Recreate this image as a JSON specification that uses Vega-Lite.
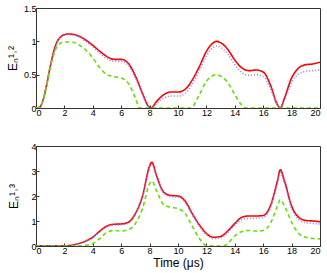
{
  "$schema": "https://vega.github.io/schema/vega-lite/v6.json",
  "padding": {"left": 5, "top": 3, "right": 5, "bottom": 2},
  "background": "white",
  "config": {
    "font": "Liberation Sans",
    "view": {"stroke": "#333", "strokeWidth": 1},
    "axis": {"grid": false, "domainColor": "#333", "tickColor": "#333", "labelColor": "#000", "titleColor": "#000", "labelFontSize": 9, "titleFontSize": 12, "titleFontWeight": "normal", "tickSize": -3, "labelPadding": 3, "domain": true, "format": "~g"}
  },
  "spacing": 38,
  "bounds": "flush",
  "datasets": {
    "top": [
      {"t":0,"s":"red","v":0},{"t":0.25,"s":"red","v":0.01},{"t":0.5,"s":"red","v":0.12},{"t":0.75,"s":"red","v":0.35},{"t":1,"s":"red","v":0.62},{"t":1.25,"s":"red","v":0.85},{"t":1.5,"s":"red","v":1.0},{"t":1.75,"s":"red","v":1.07},{"t":2,"s":"red","v":1.1},{"t":2.3,"s":"red","v":1.11},{"t":3,"s":"red","v":1.08},{"t":3.5,"s":"red","v":1.02},{"t":4,"s":"red","v":0.94},{"t":4.5,"s":"red","v":0.85},{"t":5,"s":"red","v":0.77},{"t":5.5,"s":"red","v":0.73},{"t":6,"s":"red","v":0.73},{"t":6.5,"s":"red","v":0.67},{"t":7,"s":"red","v":0.48},{"t":7.5,"s":"red","v":0.22},{"t":7.9,"s":"red","v":0.03},{"t":8.1,"s":"red","v":0},{"t":8.5,"s":"red","v":0.1},{"t":9,"s":"red","v":0.2},{"t":9.5,"s":"red","v":0.24},{"t":10,"s":"red","v":0.24},{"t":10.5,"s":"red","v":0.28},{"t":11,"s":"red","v":0.42},{"t":11.5,"s":"red","v":0.62},{"t":12,"s":"red","v":0.85},{"t":12.5,"s":"red","v":0.98},{"t":12.7,"s":"red","v":1.0},{"t":13,"s":"red","v":0.98},{"t":13.5,"s":"red","v":0.88},{"t":14,"s":"red","v":0.72},{"t":14.5,"s":"red","v":0.6},{"t":15,"s":"red","v":0.56},{"t":15.5,"s":"red","v":0.57},{"t":16,"s":"red","v":0.54},{"t":16.5,"s":"red","v":0.35},{"t":17,"s":"red","v":0.05},{"t":17.2,"s":"red","v":0},{"t":17.5,"s":"red","v":0.15},{"t":18,"s":"red","v":0.45},{"t":18.5,"s":"red","v":0.6},{"t":19,"s":"red","v":0.65},{"t":19.5,"s":"red","v":0.66},{"t":20,"s":"red","v":0.69},
      {"t":0,"s":"blue","v":0},{"t":0.25,"s":"blue","v":0.01},{"t":0.5,"s":"blue","v":0.12},{"t":0.75,"s":"blue","v":0.35},{"t":1,"s":"blue","v":0.62},{"t":1.25,"s":"blue","v":0.84},{"t":1.5,"s":"blue","v":0.99},{"t":1.75,"s":"blue","v":1.06},{"t":2,"s":"blue","v":1.09},{"t":2.3,"s":"blue","v":1.1},{"t":3,"s":"blue","v":1.07},{"t":3.5,"s":"blue","v":1.0},{"t":4,"s":"blue","v":0.92},{"t":4.5,"s":"blue","v":0.82},{"t":5,"s":"blue","v":0.74},{"t":5.5,"s":"blue","v":0.7},{"t":6,"s":"blue","v":0.7},{"t":6.5,"s":"blue","v":0.64},{"t":7,"s":"blue","v":0.45},{"t":7.5,"s":"blue","v":0.2},{"t":7.9,"s":"blue","v":0.02},{"t":8.1,"s":"blue","v":0},{"t":8.5,"s":"blue","v":0.07},{"t":9,"s":"blue","v":0.15},{"t":9.5,"s":"blue","v":0.18},{"t":10,"s":"blue","v":0.18},{"t":10.5,"s":"blue","v":0.22},{"t":11,"s":"blue","v":0.36},{"t":11.5,"s":"blue","v":0.56},{"t":12,"s":"blue","v":0.78},{"t":12.5,"s":"blue","v":0.91},{"t":12.7,"s":"blue","v":0.93},{"t":13,"s":"blue","v":0.91},{"t":13.5,"s":"blue","v":0.81},{"t":14,"s":"blue","v":0.65},{"t":14.5,"s":"blue","v":0.53},{"t":15,"s":"blue","v":0.49},{"t":15.5,"s":"blue","v":0.5},{"t":16,"s":"blue","v":0.47},{"t":16.5,"s":"blue","v":0.3},{"t":17,"s":"blue","v":0.04},{"t":17.2,"s":"blue","v":0},{"t":17.5,"s":"blue","v":0.12},{"t":18,"s":"blue","v":0.38},{"t":18.5,"s":"blue","v":0.51},{"t":19,"s":"blue","v":0.55},{"t":19.5,"s":"blue","v":0.56},{"t":20,"s":"blue","v":0.57},
      {"t":0,"s":"green","v":0},{"t":0.25,"s":"green","v":0.01},{"t":0.5,"s":"green","v":0.12},{"t":0.75,"s":"green","v":0.33},{"t":1,"s":"green","v":0.6},{"t":1.25,"s":"green","v":0.8},{"t":1.5,"s":"green","v":0.93},{"t":2,"s":"green","v":0.99},{"t":2.5,"s":"green","v":0.99},{"t":3,"s":"green","v":0.95},{"t":3.5,"s":"green","v":0.87},{"t":4,"s":"green","v":0.75},{"t":4.5,"s":"green","v":0.6},{"t":5,"s":"green","v":0.5},{"t":5.5,"s":"green","v":0.47},{"t":6,"s":"green","v":0.45},{"t":6.5,"s":"green","v":0.37},{"t":7,"s":"green","v":0.15},{"t":7.3,"s":"green","v":0},{"t":8,"s":"green","v":0},{"t":9,"s":"green","v":0},{"t":10,"s":"green","v":0},{"t":10.9,"s":"green","v":0},{"t":11.5,"s":"green","v":0.2},{"t":12,"s":"green","v":0.4},{"t":12.5,"s":"green","v":0.49},{"t":12.7,"s":"green","v":0.5},{"t":13,"s":"green","v":0.48},{"t":13.5,"s":"green","v":0.38},{"t":14,"s":"green","v":0.2},{"t":14.5,"s":"green","v":0.04},{"t":14.8,"s":"green","v":0},{"t":16,"s":"green","v":0},{"t":18,"s":"green","v":0},{"t":20,"s":"green","v":0}
    ],
    "bottom": [
      {"t":0,"s":"red","v":0.01},{"t":1,"s":"red","v":0.01},{"t":2,"s":"red","v":0.01},{"t":2.5,"s":"red","v":0.03},{"t":3,"s":"red","v":0.1},{"t":3.5,"s":"red","v":0.2},{"t":4,"s":"red","v":0.35},{"t":4.5,"s":"red","v":0.6},{"t":5,"s":"red","v":0.8},{"t":5.5,"s":"red","v":0.87},{"t":6,"s":"red","v":0.88},{"t":6.5,"s":"red","v":0.95},{"t":7,"s":"red","v":1.3},{"t":7.5,"s":"red","v":2.0},{"t":8,"s":"red","v":3.2},{"t":8.15,"s":"red","v":3.35},{"t":8.5,"s":"red","v":2.8},{"t":9,"s":"red","v":2.15},{"t":9.5,"s":"red","v":2.02},{"t":10,"s":"red","v":2.0},{"t":10.5,"s":"red","v":1.8},{"t":11,"s":"red","v":1.3},{"t":11.5,"s":"red","v":0.85},{"t":12,"s":"red","v":0.5},{"t":12.5,"s":"red","v":0.35},{"t":13,"s":"red","v":0.38},{"t":13.5,"s":"red","v":0.6},{"t":14,"s":"red","v":0.9},{"t":14.5,"s":"red","v":1.15},{"t":15,"s":"red","v":1.2},{"t":15.5,"s":"red","v":1.2},{"t":16,"s":"red","v":1.22},{"t":16.5,"s":"red","v":1.6},{"t":17,"s":"red","v":2.6},{"t":17.2,"s":"red","v":3.05},{"t":17.5,"s":"red","v":2.6},{"t":18,"s":"red","v":1.6},{"t":18.5,"s":"red","v":1.15},{"t":19,"s":"red","v":1.02},{"t":19.5,"s":"red","v":1.0},{"t":20,"s":"red","v":0.97},
      {"t":0,"s":"blue","v":0.01},{"t":1,"s":"blue","v":0.01},{"t":2,"s":"blue","v":0.01},{"t":2.5,"s":"blue","v":0.03},{"t":3,"s":"blue","v":0.09},{"t":3.5,"s":"blue","v":0.19},{"t":4,"s":"blue","v":0.33},{"t":4.5,"s":"blue","v":0.57},{"t":5,"s":"blue","v":0.77},{"t":5.5,"s":"blue","v":0.84},{"t":6,"s":"blue","v":0.85},{"t":6.5,"s":"blue","v":0.92},{"t":7,"s":"blue","v":1.26},{"t":7.5,"s":"blue","v":1.95},{"t":8,"s":"blue","v":3.13},{"t":8.15,"s":"blue","v":3.28},{"t":8.5,"s":"blue","v":2.74},{"t":9,"s":"blue","v":2.1},{"t":9.5,"s":"blue","v":1.97},{"t":10,"s":"blue","v":1.95},{"t":10.5,"s":"blue","v":1.75},{"t":11,"s":"blue","v":1.25},{"t":11.5,"s":"blue","v":0.8},{"t":12,"s":"blue","v":0.45},{"t":12.5,"s":"blue","v":0.3},{"t":13,"s":"blue","v":0.33},{"t":13.5,"s":"blue","v":0.54},{"t":14,"s":"blue","v":0.83},{"t":14.5,"s":"blue","v":1.06},{"t":15,"s":"blue","v":1.1},{"t":15.5,"s":"blue","v":1.11},{"t":16,"s":"blue","v":1.14},{"t":16.5,"s":"blue","v":1.52},{"t":17,"s":"blue","v":2.5},{"t":17.2,"s":"blue","v":2.95},{"t":17.5,"s":"blue","v":2.5},{"t":18,"s":"blue","v":1.5},{"t":18.5,"s":"blue","v":1.06},{"t":19,"s":"blue","v":0.93},{"t":19.5,"s":"blue","v":0.9},{"t":20,"s":"blue","v":0.88},
      {"t":0,"s":"green","v":0},{"t":2,"s":"green","v":0},{"t":3,"s":"green","v":0},{"t":3.5,"s":"green","v":0.03},{"t":4,"s":"green","v":0.1},{"t":4.5,"s":"green","v":0.3},{"t":5,"s":"green","v":0.55},{"t":5.5,"s":"green","v":0.62},{"t":6,"s":"green","v":0.6},{"t":6.5,"s":"green","v":0.65},{"t":7,"s":"green","v":0.9},{"t":7.5,"s":"green","v":1.5},{"t":8,"s":"green","v":2.5},{"t":8.15,"s":"green","v":2.6},{"t":8.5,"s":"green","v":2.2},{"t":9,"s":"green","v":1.65},{"t":9.5,"s":"green","v":1.55},{"t":10,"s":"green","v":1.5},{"t":10.5,"s":"green","v":1.3},{"t":11,"s":"green","v":0.8},{"t":11.5,"s":"green","v":0.3},{"t":12,"s":"green","v":0.02},{"t":12.5,"s":"green","v":0},{"t":13.2,"s":"green","v":0},{"t":13.5,"s":"green","v":0.1},{"t":14,"s":"green","v":0.4},{"t":14.5,"s":"green","v":0.58},{"t":15,"s":"green","v":0.62},{"t":15.5,"s":"green","v":0.6},{"t":16,"s":"green","v":0.62},{"t":16.5,"s":"green","v":0.9},{"t":17,"s":"green","v":1.6},{"t":17.2,"s":"green","v":1.85},{"t":17.5,"s":"green","v":1.6},{"t":18,"s":"green","v":0.95},{"t":18.5,"s":"green","v":0.5},{"t":19,"s":"green","v":0.35},{"t":19.5,"s":"green","v":0.3},{"t":20,"s":"green","v":0.28}
    ]
  },
  "vconcat": [
    {
      "width": 284,
      "height": 100,
      "data": {"name": "top"},
      "mark": {"type": "line", "interpolate": "monotone", "strokeWidth": 1.6, "clip": true},
      "encoding": {
        "x": {"field": "t", "type": "quantitative", "scale": {"domain": [0, 20], "nice": false}, "axis": {"values": [0,2,4,6,8,10,12,14,16,18,20], "title": null}},
        "y": {"field": "v", "type": "quantitative", "scale": {"domain": [0, 1.5], "nice": false}, "axis": {"values": [0, 0.5, 1, 1.5], "title": "Eₙ¹˒²", "titlePadding": 4}},
        "color": {"field": "s", "type": "nominal", "scale": {"domain": ["green", "blue", "red"], "range": ["#66e000", "#8080ff", "#ff0000"]}, "legend": null},
        "strokeDash": {"field": "s", "type": "nominal", "scale": {"domain": ["green", "blue", "red"], "range": [[4, 3], [1, 2], [1, 0]]}, "legend": null}
      }
    },
    {
      "width": 284,
      "height": 100,
      "data": {"name": "bottom"},
      "mark": {"type": "line", "interpolate": "monotone", "strokeWidth": 1.6, "clip": true},
      "encoding": {
        "x": {"field": "t", "type": "quantitative", "scale": {"domain": [0, 20], "nice": false}, "axis": {"values": [0,2,4,6,8,10,12,14,16,18,20], "title": "Time (μs)", "titlePadding": 2}},
        "y": {"field": "v", "type": "quantitative", "scale": {"domain": [0, 4], "nice": false}, "axis": {"values": [0, 1, 2, 3, 4], "title": "Eₙ¹˒³", "titlePadding": 10}},
        "color": {"field": "s", "type": "nominal", "scale": {"domain": ["green", "blue", "red"], "range": ["#66e000", "#8080ff", "#ff0000"]}, "legend": null},
        "strokeDash": {"field": "s", "type": "nominal", "scale": {"domain": ["green", "blue", "red"], "range": [[4, 3], [1, 2], [1, 0]]}, "legend": null}
      }
    }
  ]
}
